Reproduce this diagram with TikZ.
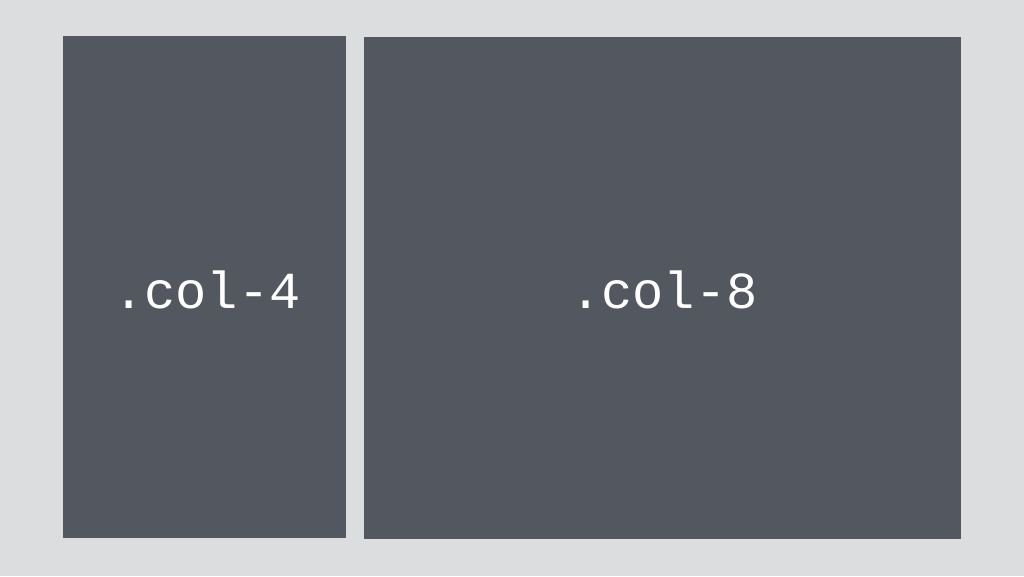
\documentclass[tikz,border=0pt]{standalone}
\usepackage{fontspec}
\setmonofont{Liberation Mono}
\usepackage{tikz}
\usetikzlibrary{positioning,calc}
\definecolor{pagebg}{HTML}{DCDDDF}
\definecolor{colbg}{HTML}{535860}

\begin{document}
\begin{tikzpicture}[x=1pt,y=-1pt,
                    colbox/.style={fill=colbg, draw=none},
                    collabel/.style={text=white, font=\ttfamily\fontsize{52}{62}\selectfont, inner sep=0pt}]
                    \fill[pagebg] (0,0) rectangle (1024,576);
                    \useasboundingbox (0,0) rectangle (1024,576);
                    \fill[colbox] (63,36) rectangle (346.3,538.3);
                    \fill[colbox] (364.3,37.3) rectangle (960.5,539.3);
                    \node[collabel] (col4) at (207,290) {.col-4};
                    \node[collabel] (col8) at (664,290) {.col-8};
                \end{tikzpicture}
\end{document}
